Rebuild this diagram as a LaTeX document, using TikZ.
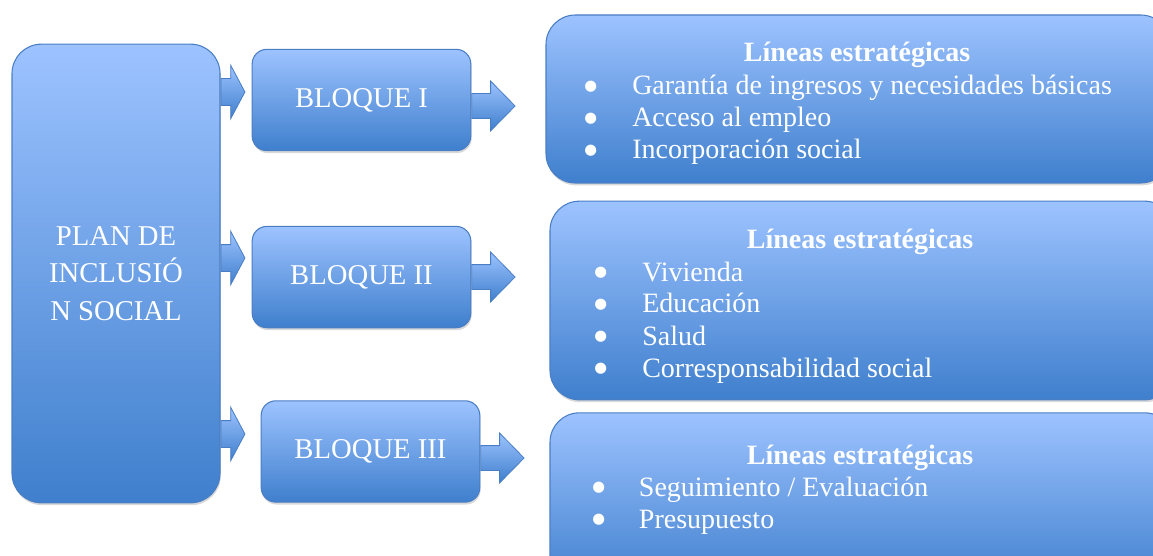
\documentclass[tikz,border=0pt]{standalone}
\usepackage{fontspec}
\setmainfont{Liberation Serif}
\newfontfamily\symfont{DejaVu Sans}
\usepackage{tikz}
\usetikzlibrary{positioning, shapes.arrows, shadows, calc}

\definecolor{boxtop}{HTML}{9DC3FF}
\definecolor{boxbottom}{HTML}{3F7FCD}
\definecolor{boxedge}{HTML}{4A7EC4}

\newcommand{\bul}{\raisebox{3.4pt}{\symfont\fontsize{11}{12}\selectfont ●}}

\begin{document}
\begin{tikzpicture}[
	  x=0.75pt, y=-0.75pt,
	  font=\fontsize{21}{24}\selectfont,
	  box/.style={
	    draw=boxedge,
	    line width=0.8pt,
	    top color=boxtop,
	    bottom color=boxbottom,
	    rounded corners=11pt,
	    text=white,
	    align=center,
	    drop shadow={opacity=0.3, shadow xshift=0.6pt, shadow yshift=-1.8pt}
	  },
	  planbox/.style={box, minimum width=156pt, minimum height=344pt, rounded corners=22pt, font=\fontsize{21.5}{28}\selectfont},
	  bloquebox/.style={box, minimum width=164pt, minimum height=76pt, font=\fontsize{21.5}{24}\selectfont},
	  lineabox/.style={box, minimum width=468pt, rounded corners=22pt},
	  titletext/.style={text=white, font=\fontsize{21}{24}\selectfont\bfseries, anchor=base},
	  itemtext/.style={text=white, anchor=base west, inner sep=0pt},
	  blockarrow/.style={single arrow, draw=boxedge, line width=0.6pt, top color=boxtop, bottom color=boxbottom, inner xsep=0pt, anchor=tail},
	  inarrow/.style={blockarrow, inner ysep=9.75pt, single arrow head extend=10.1pt, single arrow tip angle=124, minimum height=18pt},
	  outarrow/.style={blockarrow, inner ysep=9pt, single arrow head extend=9.4pt, single arrow tip angle=91, minimum height=32.5pt}
	]
	\useasboundingbox (0,0) rectangle (1153,556);

	% --- Plan (left) ---
	\node[planbox] (plan) at (116,273.5) {PLAN DE\\INCLUSIÓ\\N SOCIAL};

	% --- Bloques (middle) ---
	\node[bloquebox] (b1) at (361.5,100) {BLOQUE I};
	\node[bloquebox, below=56pt of b1] (b2) {BLOQUE II};
	\node[bloquebox, below=54pt of b2, xshift=6.75pt] (b3) {BLOQUE III};

	% --- Lineas estrategicas (right) ---
	\node[lineabox, minimum height=126pt] (l1) at (858,99) {};
	\node[lineabox, minimum height=149pt] (l2) at (862,300.5) {};
	\node[lineabox, minimum height=133pt] (l3) at (862,501.5) {};

	\node[titletext] (t1) at (857,62) {Líneas estratégicas};
	\node[itemtext] (i1) at (584,95) {\begin{tabular}[t]{@{}p{36pt}@{}l@{}}
	  \bul & Garantía de ingresos y necesidades básicas\\
	  \bul & Acceso al empleo\\
	  \bul & Incorporación social
	\end{tabular}};

	\node[titletext] (t2) at (860,248) {Líneas estratégicas};
	\node[itemtext] (i2) at (594,281) {\begin{tabular}[t]{@{}p{36pt}@{}l@{}}
	  \bul & Vivienda\\
	  \bul & Educación\\
	  \bul & Salud\\
	  \bul & Corresponsabilidad social
	\end{tabular}};

	\node[titletext] (t3) at (860,464) {Líneas estratégicas};
	\node[itemtext] (i3) at (592,496) {\begin{tabular}[t]{@{}p{35pt}@{}l@{}}
	  \bul & Seguimiento / Evaluación\\
	  \bul & Presupuesto
	\end{tabular}};

	% --- Flechas ---
	\node[inarrow] (a1) at (plan.east |- 0,92) {};
	\node[inarrow] (a2) at (plan.east |- 0,258) {};
	\node[inarrow] (a3) at (plan.east |- 0,434) {};
	\node[outarrow] (c1) at (b1.east |- 0,106) {};
	\node[outarrow] (c2) at (b2.east |- 0,277) {};
	\node[outarrow] (c3) at (b3.east |- 0,458) {};

\end{tikzpicture}
\end{document}
